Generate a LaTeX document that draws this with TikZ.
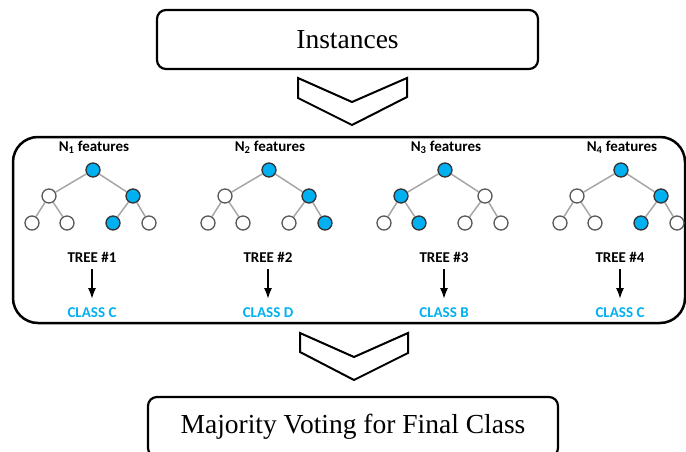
\documentclass[tikz,border=0pt]{standalone}
\usepackage{fontspec}
\setmainfont{Liberation Serif}
\newfontfamily\treefont{Carlito}
\usetikzlibrary{arrows.meta,positioning}
\definecolor{leafblue}{HTML}{00B0F0}

\begin{document}
\begin{tikzpicture}[
  x=1pt, y=-1pt, >=Latex,
  stage/.style={draw, line width=2.2pt, rounded corners=9pt, inner sep=0pt,
                font=\fontsize{27.5}{30}\selectfont},
  chev/.style={draw, line width=2pt, line join=miter},
  knot/.style={circle, draw=black!65, line width=1.3pt, fill=white,
               minimum size=14pt, inner sep=0pt},
  hot/.style={knot, fill=leafblue, draw=black!80},
  cold/.style={knot},
  twig/.style={draw=black!35, line width=1.5pt},
  treetxt/.style={font=\treefont\bfseries\fontsize{15}{17}\selectfont, inner sep=1pt},
  vote/.style={->, line width=1.7pt, shorten <=6pt, shorten >=8pt}
]
\useasboundingbox (0,0) rectangle (686,452);
\clip (0,0) rectangle (686,452);

\node[stage, minimum width=381pt, minimum height=59pt] (instances) at (347.5,39.5) {Instances};
\node[draw, line width=2.5pt, rounded corners=25pt, minimum width=672pt, minimum height=186pt]
  (forest) at (349,230) {};
\node[stage, minimum width=410pt, minimum height=60pt] (voting) at (353,427) {Majority Voting for Final Class};

% the two big chevrons
\draw[chev] (298,78) -- (352,102) -- (407,78) -- (407,97) -- (352,125) -- (298,98) -- cycle;
\draw[chev] (300,333) -- (354,357) -- (408,333) -- (408,353) -- (354,380) -- (300,352) -- cycle;

% one tree per column
\foreach \i/\x/\cls/\a/\b/\c/\d/\e/\f in {1/93/C/cold/hot/cold/cold/hot/cold,
    2/269/D/cold/hot/cold/cold/cold/hot, 3/445/B/hot/cold/cold/hot/cold/cold,
    4/621/C/cold/hot/cold/cold/hot/cold} {
  \node[treetxt] (feat\i) at (\x+1,147) {N\textsubscript{\i} features};
  \node[hot] (root\i) at (\x,170) {};
  \node[\a] (left\i) at (\x-44,196) {};
  \node[\b] (right\i) at (\x+40,196) {};
  \node[\c] (ll\i) at (\x-61,223) {};
  \node[\d] (lr\i) at (\x-26,223) {};
  \node[\e] (rl\i) at (\x+20,223) {};
  \node[\f] (rr\i) at (\x+56,223) {};
  \draw[twig] (root\i) -- (left\i) (root\i) -- (right\i)
    (left\i) -- (ll\i) (left\i) -- (lr\i) (right\i) -- (rl\i) (right\i) -- (rr\i);
  \node[treetxt] (tree\i) at (\x-1,257) {TREE \#\i};
  \node[treetxt, text=leafblue] (class\i) at (\x-1,313) {CLASS \cls};
  \draw[vote] (tree\i.south) -- (class\i.north);
}
\end{tikzpicture}
\end{document}
